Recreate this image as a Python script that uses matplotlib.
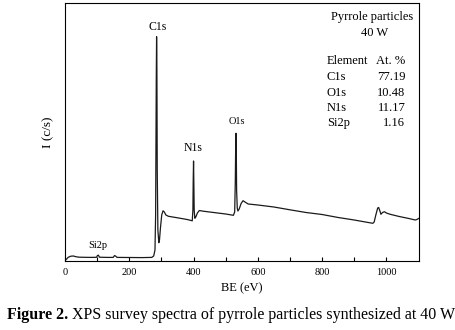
import numpy as np
import matplotlib
matplotlib.use("Agg")
import matplotlib.pyplot as plt

plt.rcParams['font.family'] = ['Liberation Serif', 'DejaVu Serif']

# XPS survey spectrum (BE in eV, intensity in arbitrary units)
be = [0, 5, 10, 18, 26, 35, 45, 60, 80, 98, 101, 104, 107, 130, 150, 154, 158,
      162, 200, 240, 270, 276, 280, 282, 284, 285, 286, 287, 289, 292, 294, 297,
      301, 305, 309, 314, 322, 350, 380, 396, 398, 399, 400, 401, 402, 404, 407,
      412, 418, 430, 460, 500, 524, 528, 530, 531, 532, 533, 534, 536, 538, 542,
      548, 554, 560, 570, 600, 650, 700, 750, 800, 850, 900, 940, 958, 962, 968,
      973, 976, 980, 983, 988, 994, 1000, 1012, 1040, 1070, 1090, 1095, 1100]
counts = [0.5, 2.0, 3.7, 4.8, 5.0, 4.2, 3.8, 3.7, 3.6, 3.7, 5.5, 5.8, 3.8, 3.6,
          3.6, 5.4, 4.8, 3.6, 3.5, 3.4, 3.6, 5.0, 11.0, 46.0, 181.0, 224.3, 191.0,
          91.0, 31.0, 18.3, 21.0, 33.0, 46.0, 50.2, 49.0, 46.0, 44.7, 43.2, 41.5,
          40.2, 51.0, 81.0, 100.0, 76.0, 51.0, 42.7, 44.0, 48.0, 50.5, 49.8, 48.6,
          47.0, 45.7, 49.0, 81.0, 111.0, 127.7, 111.0, 71.0, 53.0, 50.0, 52.0, 57.5,
          60.3, 59.0, 57.0, 56.0, 54.0, 51.2, 48.5, 46.5, 43.5, 41.0, 38.7, 37.7,
          39.0, 47.0, 53.0, 53.5, 50.0, 46.7, 48.5, 49.3, 48.0, 46.7, 44.5, 42.5,
          41.0, 41.5, 42.5]

# peak labels
peak_names = ["C1s", "N1s", "O1s", "Si2p"]
peak_x = [289, 399, 534, 102]
peak_y = [234, 113, 140, 16]
peak_size = [8.5, 8.5, 7.5, 7.5]

# composition table
elements = ["C1s", "O1s", "N1s", "Si2p"]
at_percent = ["77.19", "10.48", "11.17", "1.16"]

fig = plt.figure(figsize=(4.55, 3.30), dpi=100)
ax = fig.add_axes([65 / 455, 1 - 261 / 330, (418.5 - 65) / 455, (261 - 3) / 330])

ax.plot(be, counts, color="#1a1a1a", lw=0.9)

ax.set_xlim(0, 1100)
ax.set_ylim(0, 258)
ax.set_xticks(np.arange(0, 1001, 200))
ax.set_xticks(np.arange(100, 1100, 200), minor=True)
ax.set_yticks([])
ax.tick_params(axis="x", which="both", direction="in", length=3, width=0.8,
               labelsize=7.5, pad=5)
for s in ax.spines.values():
    s.set_linewidth(0.8)

ax.set_xlabel("BE (eV)", fontsize=9, labelpad=4)
ax.set_ylabel("I (c/s)", fontsize=9.5, labelpad=8)

for name, x, y, fs in zip(peak_names, peak_x, peak_y, peak_size):
    ax.text(x, y, name, ha="center", va="center", fontsize=fs)

ax.text(955, 243.7, "Pyrrole particles", ha="center", va="center", fontsize=9)
ax.text(963, 227.7, "40 W", ha="center", va="center", fontsize=9)
ax.text(815, 200, "Element", ha="left", va="center", fontsize=9)
ax.text(1059, 200, "At. %", ha="right", va="center", fontsize=9)
row_y = 183.7
for el, val in zip(elements, at_percent):
    ax.text(815, row_y, el, ha="left", va="center", fontsize=9)
    ax.text(1059, row_y, val, ha="right", va="center", fontsize=9)
    row_y -= 15.3

# caption: bold "Figure 2." followed by plain text
cap1 = fig.text(7 / 455, 1 - 315 / 330, "Figure 2.", fontsize=11.5, fontweight="bold",
                va="center", ha="left")
fig.canvas.draw()
bb = cap1.get_window_extent()
fig.text(bb.x1 / fig.bbox.width + 4 / 455, 1 - 315 / 330,
         "XPS survey spectra of pyrrole particles synthesized at 40 W",
         fontsize=11.5, va="center", ha="left")

fig.savefig("out.png", dpi=100)
